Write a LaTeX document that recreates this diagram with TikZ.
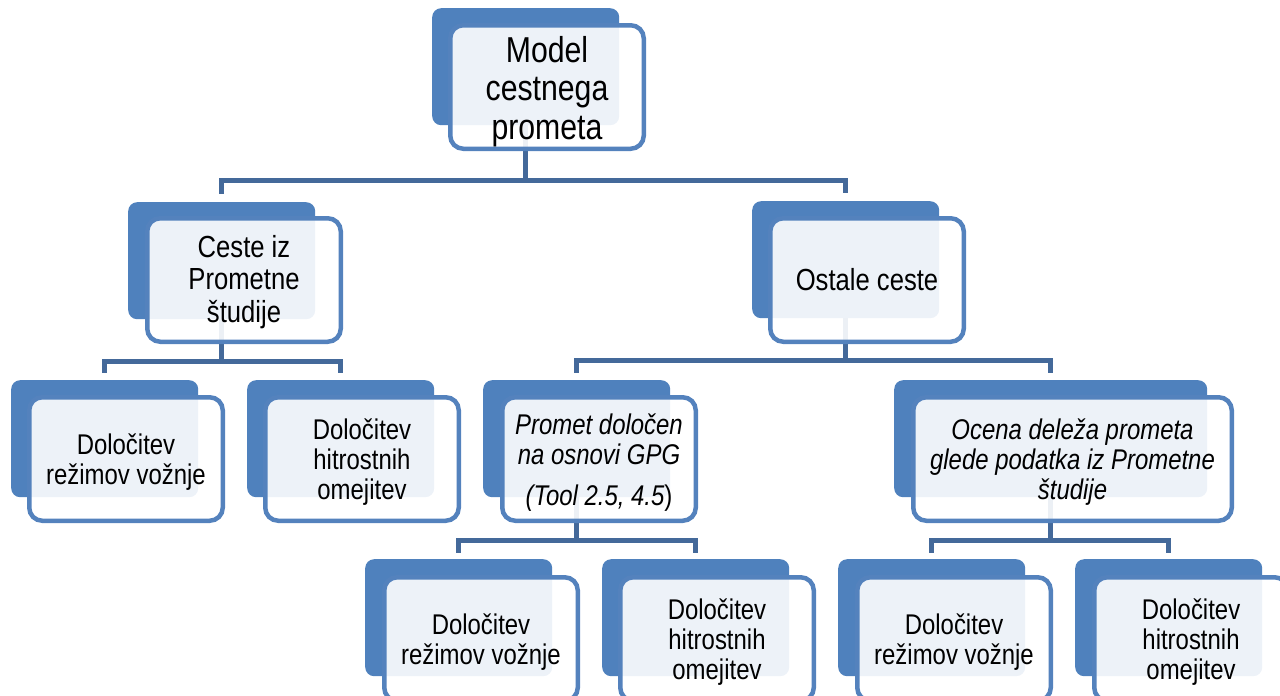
\documentclass[tikz,border=0pt]{standalone}
\usepackage{fontspec}
\setmainfont{Liberation Sans}[FakeStretch=0.84]
\usetikzlibrary{calc}
\definecolor{boxblue}{HTML}{4F81BD}
\definecolor{rimblue}{HTML}{5482BD}
\definecolor{lineblue}{HTML}{44699A}
\newcommand\myLift[1]{\rule{0pt}{#1}}
\tikzset{
  backbox/.style={fill=boxblue, draw=none, rounded corners=9pt, minimum width=187pt,
    minimum height=117pt, inner sep=0pt, anchor=north west},
  frontbox/.style={draw=rimblue, line width=4.5pt, fill=white, fill opacity=0.9, text opacity=1,
    rounded corners=13pt, minimum width=193.5pt, minimum height=123.5pt, inner sep=0pt,
    align=center, anchor=north west, text=black},
  conn/.style={draw=lineblue, line width=4.5pt, line join=miter, line cap=butt},
  big/.style={font=\fontsize{36}{38.5}\selectfont},
  mid/.style={font=\fontsize{30.5}{32.5}\selectfont},
  small/.style={font=\fontsize{28.5}{30}\selectfont},
}
\begin{document}
\begin{tikzpicture}[x=1pt, y=-1pt]
\useasboundingbox (0,0) rectangle (1280,696);
\clip (0,0) rectangle (1280,696);
% back boxes
\node[backbox] (Mb) at (432,8) {};
\node[backbox] (Cb) at (128,202) {};
\node[backbox] (Ob) at (752,201) {};
\node[backbox] (D1b) at (11,380) {};
\node[backbox] (D2b) at (247,380) {};
\node[backbox] (Pb) at (483,380) {};
\node[backbox, minimum width=313pt] (Eb) at (894,380) {};
\node[backbox] (B1b) at (365,559) {};
\node[backbox] (B2b) at (602,559) {};
\node[backbox] (B3b) at (838,559) {};
\node[backbox] (B4b) at (1075,559) {};
% junctions
\coordinate (Mj) at ($(Mb.south)+(0,55)$);
\coordinate (Cj) at ($(Cb.south)+(0,42)$);
\coordinate (Oj) at ($(Ob.south)+(0,42)$);
\coordinate (Pj) at ($(Pb.south)+(0,43)$);
\coordinate (Ej) at ($(Eb.south)+(0,43)$);
% connectors
\draw[conn] (Mb.south) -- (Mj) -| ($(Cb.north)+(0,-8)$);
\draw[conn] (Mj) -| ($(Ob.north)+(0,-8)$);
\draw[conn] (Cb.south) -- (Cj) -| ($(D1b.north)+(0,-7)$);
\draw[conn] (Cj) -| ($(D2b.north)+(0,-7)$);
\draw[conn] (Ob.south) -- (Oj) -| ($(Pb.north)+(0,-7)$);
\draw[conn] (Oj) -| ($(Eb.north)+(0,-7)$);
\draw[conn] (Pb.south) -- (Pj) -| ($(B1b.north)+(0,-6)$);
\draw[conn] (Pj) -| ($(B2b.north)+(0,-6)$);
\draw[conn] (Eb.south) -- (Ej) -| ($(B3b.north)+(0,-6)$);
\draw[conn] (Ej) -| ($(B4b.north)+(0,-6)$);
% front boxes
\node[frontbox, big] (M) at (448,23) {\myLift{35pt}Model\\cestnega\\prometa};
\node[frontbox, mid] (C) at (145,216) {\myLift{25.5pt}Ceste iz\\Prometne\\študije};
\node[frontbox, mid] (O) at (768,216) {Ostale ceste};
\node[frontbox, small] (D1) at (27,395) {\myLift{27pt}Določitev\\režimov vožnje};
\node[frontbox, small] (D2) at (263,395) {\myLift{27pt}Določitev\\hitrostnih\\omejitev};
\node[frontbox, small] (P) at (500,395) {\myLift{27pt}\itshape Promet določen\\\itshape na osnovi GPG\\[11pt]\itshape (Tool 2.5, 4.5\upshape)};
\node[frontbox, small, minimum width=318.5pt] (E) at (911,395) {\myLift{27pt}\itshape Ocena deleža prometa\\\itshape glede podatka iz Prometne\\\itshape študije};
\node[frontbox, small] (B1) at (382,575) {\myLift{27pt}Določitev\\režimov vožnje};
\node[frontbox, small] (B2) at (618,575) {\myLift{27pt}Določitev\\hitrostnih\\omejitev};
\node[frontbox, small] (B3) at (855,575) {\myLift{27pt}Določitev\\režimov vožnje};
\node[frontbox, small] (B4) at (1092,575) {\myLift{27pt}Določitev\\hitrostnih\\omejitev};
\end{tikzpicture}
\end{document}
